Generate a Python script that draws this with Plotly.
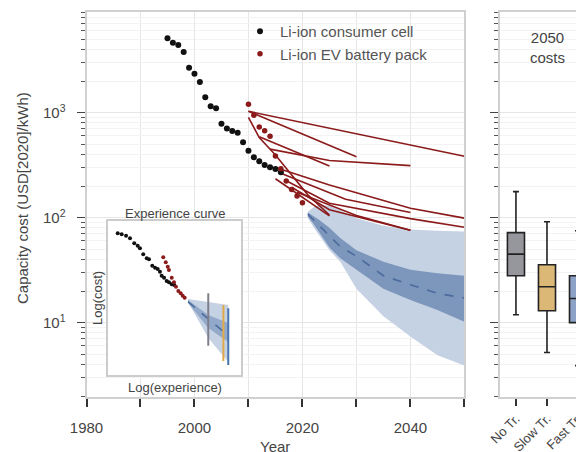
import plotly.graph_objects as go

# ---------------- data ----------------
cell_years = list(range(1995, 2017))
cell_cost = [5110, 4640, 4420, 3780, 2680, 2350, 1960, 1400, 1150, 1100, 785, 705,
             670, 645, 523, 434, 376, 344, 318, 302, 291, 271]

ev_years = list(range(2010, 2021))
ev_cost = [1202, 945, 731, 674, 596, 387, 293, 224, 186, 161, 139]

# projections from literature (each: years, costs)
proj_years = [
    [2010, 2050],
    [2010, 2030],
    [2010, 2012, 2015, 2018, 2021, 2025],
    [2012, 2025],
    [2014, 2025, 2040],
    [2015, 2025, 2040, 2050],
    [2016, 2028, 2040],
    [2017, 2025, 2040, 2050],
    [2018, 2025, 2040],
    [2019, 2030, 2040],
    [2015, 2025],
]
proj_cost = [
    [1030, 385],
    [1030, 380],
    [900, 580, 395, 255, 165, 106],
    [590, 310],
    [450, 350, 313],
    [300, 205, 123, 99],
    [265, 150, 112],
    [225, 137, 98, 81],
    [195, 119, 76],
    [175, 105, 76],
    [235, 104],
]

band_years = [2021, 2022, 2023, 2025, 2027, 2030, 2035, 2040, 2045, 2050]
outer_hi = [114, 125, 132, 130, 118, 99, 84, 77, 75, 74]
outer_lo = [100, 82, 68, 49, 38, 21, 11.5, 7.4, 4.9, 3.9]
inner_hi = [112, 104, 96, 80, 64, 49, 38, 32, 29.5, 28]
inner_lo = [102, 88, 74, 52, 41, 31.6, 21, 16.4, 13.2, 10.2]
median = [108, 96, 85, 66, 53, 43, 28, 23, 19, 17.2]

box_names = ["No Tr.", "Slow Tr.", "Fast Tr."]
box_low = [11.9, 5.2, 3.9]
box_q1 = [28, 13, 10]
box_med = [45, 22, 17]
box_q3 = [72, 35.6, 28]
box_high = [177, 91.6, 75]
box_colors = ["#96969d", "#dcb877", "#8ca3c7"]

# inset (arbitrary log-experience / log-cost units)
in_cell_x = [7.1, 10.1, 13.4, 16.4, 19.6, 22.2, 23.9, 26.4, 29.0, 30.7, 33.2, 35.3, 37.3, 39.0,
             40.3, 42.1, 44.1, 45.8, 47.9, 49.8]
in_cell_y = [92.0, 91.4, 90.5, 88.8, 85.5, 84.0, 82.3, 78.4, 75.8, 75.1, 71.0, 69.7, 68.8, 67.1,
             64.5, 63.2, 61.0, 60.2, 58.9, 58.4]
in_ev_x = [41.5, 43.4, 44.9, 45.8, 47.9, 49.6, 51.1, 52.9, 54.7, 56.2, 57.7]
in_ev_y = [76.4, 73.2, 70.3, 68.2, 63.2, 60.2, 57.3, 54.5, 53.1, 51.5, 50.2]
in_band_x = [60.2, 75.5, 90.6]
in_outer_hi = [49.4, 47.5, 45.5]
in_outer_lo = [47.4, 24.0, 8.4]
in_inner_hi = [48.7, 39.0, 33.8]
in_inner_lo = [46.8, 30.5, 21.4]
in_median = [47.6, 36.6, 25.5]
in_range_x = [75.5, 86.9, 90.6]
in_range_lo = [19.0, 9.1, 6.5]
in_range_hi = [53.1, 45.5, 43.3]
in_range_colors = ["#7f7f8c", "#e0a94c", "#4a74b0"]
in_extent = [0, 100]

# ---------------- styling ----------------
FONT = "Liberation Sans, Arial, sans-serif"
TXT = "#444444"
RED = "#8b1a1a"
GRID = "#e6e6e6"
MGRID = "#f3f3f3"
FRAME = "#d0d0d0"
W, H = 584, 452
OFF = 8  # page body margin
ML, MR, MT, MB = 0, 0, 4, 63
PH = H - MT - MB


def px_x(px):
    return (px - OFF - ML) / (W - ML - MR)


def px_y(py):
    return (H - MB - (py - OFF)) / PH


fig = go.Figure()

# bands
fig.add_trace(go.Scatter(x=band_years + band_years[::-1], y=outer_hi + outer_lo[::-1],
                         fill="toself", fillcolor="#c5d2e3", line=dict(width=0),
                         mode="lines", showlegend=False, hoverinfo="skip"))
fig.add_trace(go.Scatter(x=band_years + band_years[::-1], y=inner_hi + inner_lo[::-1],
                         fill="toself", fillcolor="#7d96bc", line=dict(width=0),
                         mode="lines", showlegend=False, hoverinfo="skip"))
fig.add_trace(go.Scatter(x=band_years, y=median, mode="lines",
                         line=dict(color="#4b6b9c", width=1.6, dash="dash"),
                         showlegend=False))

# projections
for yrs, cst in zip(proj_years, proj_cost):
    fig.add_trace(go.Scatter(x=yrs, y=cst, mode="lines",
                             line=dict(color=RED, width=1.6), showlegend=False))

fig.add_trace(go.Scatter(x=cell_years, y=cell_cost, mode="markers", name="Li-ion consumer cell",
                         marker=dict(color="#111111", size=6)))
fig.add_trace(go.Scatter(x=ev_years, y=ev_cost, mode="markers", name="Li-ion EV battery pack",
                         marker=dict(color=RED, size=5.5)))

# boxes
for name, lo, q1, md, q3, hi, col in zip(box_names, box_low, box_q1, box_med, box_q3,
                                         box_high, box_colors):
    fig.add_trace(go.Box(x=[name], q1=[q1], median=[md], q3=[q3], lowerfence=[lo],
                         upperfence=[hi], fillcolor=col, line=dict(color="#222222", width=1.6),
                         whiskerwidth=0.35, width=0.55, xaxis="x2", yaxis="y2",
                         showlegend=False, boxpoints=False))

# inset: white background panel then content
e0, e1 = in_extent
fig.add_trace(go.Scatter(x=[e0, e1, e1, e0, e0], y=[e0, e0, e1, e1, e0], fill="toself",
                         fillcolor="white", line=dict(width=0), mode="lines",
                         xaxis="x3", yaxis="y3", showlegend=False, hoverinfo="skip"))
fig.add_trace(go.Scatter(x=in_band_x + in_band_x[::-1], y=in_outer_hi + in_outer_lo[::-1],
                         fill="toself", fillcolor="#c5d2e3", line=dict(width=0), mode="lines",
                         xaxis="x3", yaxis="y3", showlegend=False))
fig.add_trace(go.Scatter(x=in_band_x + in_band_x[::-1], y=in_inner_hi + in_inner_lo[::-1],
                         fill="toself", fillcolor="#93a9ca", line=dict(width=0), mode="lines",
                         xaxis="x3", yaxis="y3", showlegend=False))
fig.add_trace(go.Scatter(x=in_band_x, y=in_median, mode="lines",
                         line=dict(color="#4b6b9c", width=1.6, dash="dash"),
                         xaxis="x3", yaxis="y3", showlegend=False))
for rx, rlo, rhi, rc in zip(in_range_x, in_range_lo, in_range_hi, in_range_colors):
    fig.add_trace(go.Scatter(x=[rx, rx], y=[rlo, rhi], mode="lines",
                             line=dict(color=rc, width=2), xaxis="x3", yaxis="y3",
                             showlegend=False))
fig.add_trace(go.Scatter(x=in_cell_x, y=in_cell_y, mode="markers",
                         marker=dict(color="#111111", size=4), xaxis="x3", yaxis="y3",
                         showlegend=False))
fig.add_trace(go.Scatter(x=in_ev_x, y=in_ev_y, mode="markers",
                         marker=dict(color=RED, size=4), xaxis="x3", yaxis="y3",
                         showlegend=False))

log_minor = [m * 10 ** e for e in range(0, 4) for m in range(2, 10)]
yr = [0.292, 3.959]

common_y = dict(type="log", range=yr, tickmode="array", tickvals=[10, 100, 1000],
                ticks="outside", ticklen=8, tickwidth=1.3, tickcolor="#444",
                showgrid=True, gridcolor=GRID, gridwidth=1,
                minor=dict(tickmode="array", tickvals=log_minor, ticks="outside", ticklen=4,
                           tickwidth=1, tickcolor="#555", showgrid=True, gridcolor=MGRID),
                showline=True, linecolor=FRAME, linewidth=2, zeroline=False)

fig.update_layout(
    width=W, height=H,
    margin=dict(l=ML, r=MR, t=MT, b=MB, autoexpand=False),
    paper_bgcolor="white", plot_bgcolor="white",
    font=dict(family=FONT, size=15, color=TXT),
    xaxis=dict(domain=[px_x(86.5), px_x(464.4)], range=[1980, 2050], tickmode="linear",
               tick0=1980, dtick=20, ticks="outside", ticklen=8, tickwidth=1.5,
               tickcolor="#333", showgrid=True, gridcolor=GRID, ticklabelstandoff=8,
               minor=dict(dtick=10, tick0=1980, ticks="outside", ticklen=8, tickwidth=1.5,
                          tickcolor="#333", showgrid=True, gridcolor=GRID),
               showline=True, linecolor=FRAME, linewidth=2, mirror=True, zeroline=False,
               tickfont=dict(size=15, color=TXT)),
    yaxis=dict(**common_y, domain=[0, 1], anchor="x", mirror=True, ticklabelstandoff=8,
               ticktext=["10<sup>1</sup>", "10<sup>2</sup>", "10<sup>3</sup>"],
               tickfont=dict(size=15, color=TXT)),
    xaxis2=dict(domain=[px_x(499.5), 1.0], anchor="y2", type="category",
                categoryorder="array", categoryarray=box_names,
                range=[-0.53, 2.45], ticks="outside", ticklen=7, tickwidth=1.5,
                tickcolor="#333", tickangle=-45, showgrid=False,
                showline=True, linecolor=FRAME, linewidth=2, mirror=True,
                tickfont=dict(size=13, color=TXT)),
    yaxis2=dict(**common_y, domain=[0, 1], anchor="x2", showticklabels=False),
    xaxis3=dict(domain=[px_x(108.3), px_x(240.7)], anchor="y3", range=in_extent,
                showgrid=False, zeroline=False, showticklabels=False, ticks="",
                showline=True, linecolor="#cccccc", linewidth=2, mirror=True),
    yaxis3=dict(domain=[px_y(375), px_y(221)], anchor="x3", range=in_extent,
                showgrid=False, zeroline=False, showticklabels=False, ticks="",
                showline=True, linecolor="#cccccc", linewidth=2, mirror=True),
    legend=dict(x=px_x(240), y=px_y(15), xanchor="left", yanchor="top",
                bgcolor="rgba(0,0,0,0)", font=dict(size=15, color="#555"),
                itemsizing="trace", tracegroupgap=0),
    boxmode="overlay",
    annotations=[
        dict(text="Capacity cost (USD[2020]/kWh)", xref="paper", yref="paper",
             x=px_x(22), y=px_y(198), textangle=-90, showarrow=False,
             font=dict(size=15, color=TXT), xanchor="center", yanchor="middle"),
        dict(text="Year", xref="paper", yref="paper", x=px_x(275), y=px_y(446),
             showarrow=False, font=dict(size=15, color=TXT), xanchor="center",
             yanchor="middle"),
        dict(text="2050<br>costs", xref="paper", yref="paper", x=px_x(547), y=px_y(47),
             showarrow=False, font=dict(size=15, color=TXT), xanchor="center",
             yanchor="middle"),
        dict(text="Experience curve", xref="paper", yref="paper", x=px_x(174.5), y=px_y(213),
             showarrow=False, font=dict(size=13, color=TXT), xanchor="center",
             yanchor="middle"),
        dict(text="Log(experience)", xref="paper", yref="paper", x=px_x(174.5), y=px_y(387),
             showarrow=False, font=dict(size=13, color=TXT), xanchor="center",
             yanchor="middle"),
        dict(text="Log(cost)", xref="paper", yref="paper", x=px_x(97), y=px_y(298),
             textangle=-90, showarrow=False, font=dict(size=13, color=TXT),
             xanchor="center", yanchor="middle"),
    ],
)

fig.write_html("out.html")
